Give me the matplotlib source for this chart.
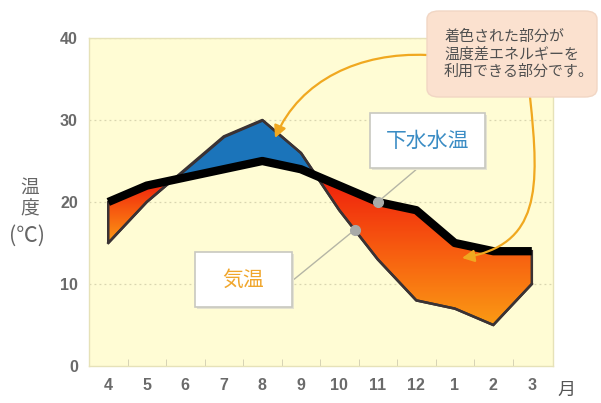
import matplotlib
matplotlib.use("Agg")
import matplotlib.pyplot as plt
import numpy as np
from matplotlib.colors import LinearSegmentedColormap
from matplotlib.patches import FancyArrowPatch, FancyBboxPatch, PathPatch, Rectangle
from matplotlib.path import Path

plt.rcParams["font.family"] = ["Noto Sans CJK JP", "DejaVu Sans"]

months = ["4", "5", "6", "7", "8", "9", "10", "11", "12", "1", "2", "3"]
sewage_temp = [20, 22, 23, 24, 25, 24, 22, 20, 19, 15, 14, 14]
air_temp = [15, 20, 24, 28, 30, 26, 19, 13, 8, 7, 5, 10]
y_ticks = [0, 10, 20, 30, 40]

W, H = 601, 403


def fpx(x, y):
    """Pixel position (top-left origin) to figure fraction."""
    return x / W, 1 - y / H


def curved_arrow(points, **kw):
    verts = [fpx(px, py) for px, py in points]
    path = Path(verts, [Path.MOVETO, Path.CURVE4, Path.CURVE4, Path.CURVE4])
    return FancyArrowPatch(path=path, transform=fig.transFigure, **kw)


fig = plt.figure(figsize=(W / 100, H / 100), dpi=100)
fig.patch.set_facecolor("white")
ax = fig.add_axes([89 / W, 37 / H, 464 / W, 328 / H])
ax.set_facecolor("#fffcd4")

x = np.arange(len(months))
sew = np.array(sewage_temp, dtype=float)
air = np.array(air_temp, dtype=float)

# grid
for v in y_ticks[1:]:
    ax.axhline(v, color="#d9d5b0", lw=0.9, ls=(0, (1.5, 2.5)), zorder=1)

edge = "#3a3234"

# air warmer than sewage -> blue
ax.fill_between(x, sew, air, where=air >= sew, interpolate=True,
                facecolor="#1b74ba", edgecolor=edge, lw=1.8, zorder=2)

# sewage warmer than air -> red/orange gradient per region
red_cmap = LinearSegmentedColormap.from_list("heat", ["#fb9a14", "#f75c10", "#ef1e0c"])
warm = ax.fill_between(x, sew, air, where=sew >= air, interpolate=True,
                       facecolor="none", edgecolor="none")
for path in warm.get_paths():
    verts = path.vertices
    x0, x1 = verts[:, 0].min(), verts[:, 0].max()
    y0, y1 = verts[:, 1].min(), verts[:, 1].max()
    grad = np.linspace(0, 1, 200).reshape(-1, 1)
    im = ax.imshow(grad, cmap=red_cmap, origin="lower", aspect="auto",
                   extent=(x0, x1, y0, y1), zorder=2, interpolation="bilinear")
    im.set_clip_path(PathPatch(path, transform=ax.transData))
    ax.add_patch(PathPatch(path, facecolor="none", edgecolor=edge, lw=1.8, zorder=2.5))

ax.plot(x, air, color=edge, lw=1.8, zorder=3)
ax.plot(x, sew, color="black", lw=6, solid_capstyle="butt", solid_joinstyle="round", zorder=4)

ax.set_xlim(-0.5, 11.55)
ax.set_ylim(0, 40)
ax.set_xticks(x)
ax.set_xticklabels(months)
ax.set_xticks(x[:-1] + 0.5, minor=True)
ax.set_yticks(y_ticks)
ax.tick_params(axis="x", which="major", length=0, pad=9)
ax.tick_params(axis="x", which="minor", direction="in", length=5, color="#d0ccb0")
ax.tick_params(axis="y", length=0, pad=8)
for lab in ax.get_xticklabels() + ax.get_yticklabels():
    lab.set_family(["Liberation Sans", "DejaVu Sans"])
    lab.set_fontweight("bold")
    lab.set_fontsize(11.5)
    lab.set_color("#6a6a6a")
for side, sp in ax.spines.items():
    sp.set_color("#e6e2b8")
    sp.set_linewidth(1.0)

# axis titles
fig.text(*fpx(30, 198), "温\n度", ha="center", va="center", fontsize=13.5,
         color="#666666", linespacing=1.05)
fig.text(*fpx(27, 236), "(℃)", ha="center", va="center", fontsize=15.5, color="#666666")
fig.text(*fpx(566, 390), "月", ha="center", va="center", fontsize=13, color="#555555")

# marker dots and leader lines
dot_sew = (7, sew[7])
dot_air = (6.4, np.interp(6.4, x, air))
for pt, box_xy in [(dot_sew, fpx(418, 168)), (dot_air, fpx(292, 281))]:
    ax.annotate("", xy=pt, xycoords="data", xytext=box_xy, textcoords="figure fraction",
                arrowprops=dict(arrowstyle="-", color="#b5b5a5", lw=1.0), zorder=5)
    ax.plot(*pt, "o", ms=7, color="#a8aaa8", zorder=6)

# label boxes
for (bx, by, bw, bh), label, col in [((370, 113, 115, 55), "下水水温", "#3a8cc4"),
                                     ((195, 252, 97, 55), "気温", "#f0a62c")]:
    fx, fy = fpx(bx, by + bh)
    fig.patches.append(Rectangle((fx + 2 / W, fy - 2 / H), bw / W, bh / H, transform=fig.transFigure,
                                 facecolor="#e4e2d0", edgecolor="none", zorder=6))
    fig.patches.append(Rectangle((fx, fy), bw / W, bh / H, transform=fig.transFigure,
                                 facecolor="white", edgecolor="#c8c8c0", lw=1.2, zorder=7))
    fig.text(*fpx(bx + bw / 2, by + bh / 2), label, ha="center", va="center",
             fontsize=15, color=col, zorder=8)

# callout
cx, cy = fpx(427, 97)
fig.patches.append(FancyBboxPatch((cx, cy), 170 / W, 86 / H, transform=fig.transFigure,
                                  boxstyle="round,pad=0,rounding_size=0.02",
                                  facecolor="#fbe1cf", edgecolor="#f1d6c4", lw=1.0, zorder=7))
fig.text(*fpx(444, 54), "着色された部分が\n温度差エネルギーを\n利用できる部分です。",
         ha="left", va="center", fontsize=10.8, color="#505050", linespacing=1.25, zorder=8)

arrow_kw = dict(arrowstyle="-|>,head_length=0.6,head_width=0.3",
                color="#f0a820", lw=1.6, zorder=6, mutation_scale=12)
fig.patches.append(curved_arrow([(427, 55), (360, 52), (300, 80), (275, 138)], **arrow_kw))
fig.patches.append(curved_arrow([(530, 97), (540, 190), (540, 245), (462, 258)], **arrow_kw))

fig.savefig("out.png", dpi=100)
